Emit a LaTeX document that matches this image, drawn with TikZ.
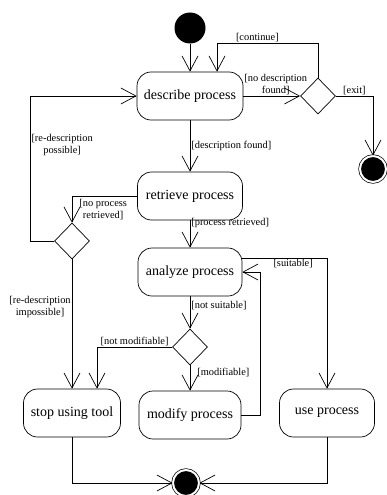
\documentclass[tikz,border=0pt]{standalone}
\usepackage{fontspec}
\setmainfont{Liberation Serif}
\usepackage{tikz}
\usetikzlibrary{positioning,arrows.meta,shapes.geometric}

\begin{document}
\begin{tikzpicture}[
x=1pt,y=-1pt,
act/.style={
    rectangle,
    rounded corners=14pt,
    minimum height=48pt,
    draw=black,
    line width=0.7pt,
    font=\fontsize{14}{16}\selectfont,
    align=center
},
choice/.style={
    diamond,
    minimum width=35pt,
    minimum height=36pt,
    inner sep=0pt,
    draw=black,
    line width=0.7pt
},
start/.style={
    circle,
    fill=black,
    minimum size=31pt,
    inner sep=0pt
},
final/.style={
    circle,
    draw=black,
    fill=black,
    double,
    double distance=2pt,
    line width=0.7pt,
    minimum size=26pt,
    inner sep=0pt
},
guard/.style={
    font=\fontsize{10.4}{12}\selectfont,
    inner sep=1pt,
    align=center
},
line/.style={
    -{Straight Barb[length=15pt,width=16pt]},
    line width=0.7pt
}
]
\useasboundingbox (0,0) rectangle (387,495);

% Main Flow
\node[start] (init) at (190,28) {};
\node[act,minimum width=106pt] (describe) at (190,96) {describe process};
\node[choice] (cont) at (318,96) {};
\node[final] (exit) at (373,169) {};

\node[act,minimum width=105pt] (retrieve) at (190,196) {retrieve process};
\node[choice] (again) at (72,241) {};
\node[act,minimum width=104pt] (analyze) at (190,272) {analyze process};
\node[choice] (modifiable) at (190,347) {};

% Bottom
\node[act,minimum width=97pt] (stop) at (72,413) {stop using tool};
\node[act,minimum width=102pt] (modify) at (190,415) {modify process};
\node[act,minimum width=95pt] (use) at (327,413) {use process};
\node[final] (done) at (186,483) {};

% Connections
\draw[line] (init) -- (describe);
\draw[line] (describe) -- (cont)
    node[guard,above,pos=0.57] {[no description\\found]};
\draw[line] (cont.north) -- ++(0,-34) -| ([xshift=27pt]describe.north)
    node[guard,above,pos=0.3] {[continue]};
\draw[line] (cont.east) -| (exit)
    node[guard,above,pos=0.25] {[exit]};

\draw[line] (describe) -- (retrieve)
    node[guard,right,midway] {[description found]};
\draw[line] (retrieve.west) -| (again.north)
    node[guard,right,pos=0.75,xshift=6pt] {[no process\\retrieved]};
\draw[line] (again.west) -- ++(-24,0) |- (describe.west)
    node[guard,right,pos=0.33] {[re-description\\possible]};
\draw[line] (again.south) -- (stop.north)
    node[guard,left,pos=0.37] {[re-description\\impossible]};

\draw[line] (retrieve) -- (analyze)
    node[guard,right,pos=0.1] {[process retrieved]};
\draw[line] (analyze) -- (modifiable)
    node[guard,right,pos=0.28] {[not suitable]};
\draw[line] ([yshift=14pt]analyze.east) -| (use)
    node[guard,below,pos=0.3] {[suitable]};
\draw[line] (modify.east) -- ++(19,0) |- (analyze.east);

\draw[line] (modifiable.west) -| ([xshift=25pt]stop.north)
    node[guard,above,pos=0.25] {[not modifiable]};
\draw[line] (modifiable) -- (modify)
    node[guard,right,pos=0.3,xshift=6pt] {[modifiable]};

\draw[line] (stop) |- (done);
\draw[line] (use) |- (done);

\end{tikzpicture}
\end{document}
